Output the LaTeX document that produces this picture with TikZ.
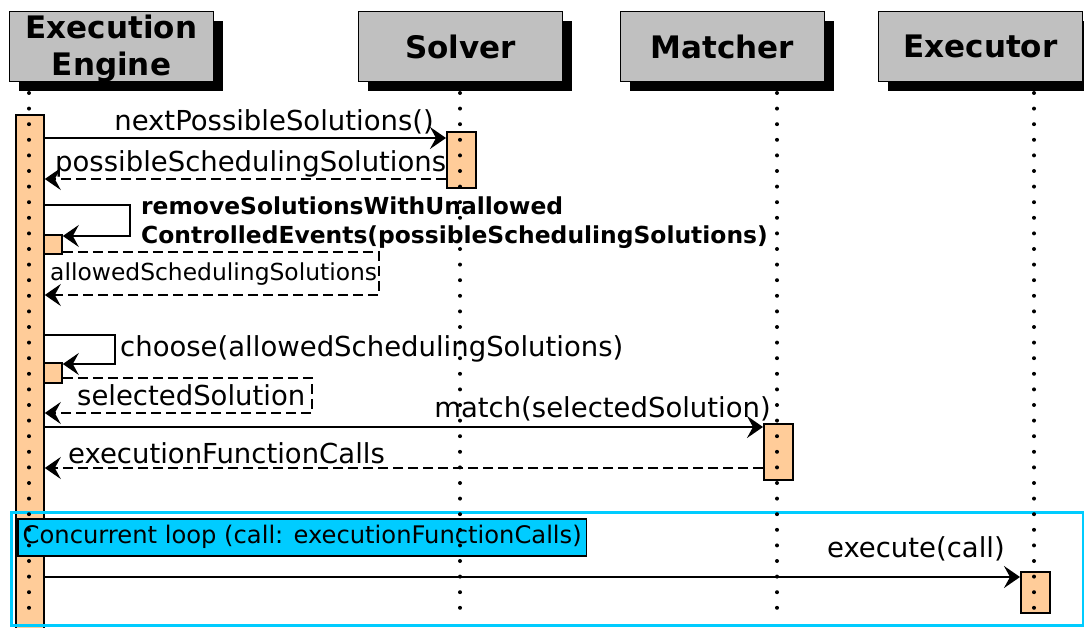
\documentclass[tikz,border=0pt]{standalone}
\usepackage{fontspec}
\setmainfont{DejaVu Sans}
\usetikzlibrary{arrows.meta,shadows}
\definecolor{actfill}{HTML}{FFCC99}
\definecolor{headgray}{HTML}{C0C0C0}
\definecolor{loopcyan}{HTML}{00CCFF}
\tikzset{
  header/.style={draw, line width=1.8pt, fill=headgray, minimum width=204pt,
    minimum height=70pt, inner sep=0pt, align=center,
    font=\fontsize{31}{37}\selectfont\bfseries,
    drop shadow={shadow xshift=9.5pt, shadow yshift=-9.5pt, fill=black, opacity=1}},
  act/.style={draw, line width=1.8pt, fill=actfill, anchor=north west, inner sep=0pt},
  lifeline/.style={line width=4pt, dash pattern=on 0pt off 15.6pt, line cap=round},
  msg/.style={line width=2pt, -{Stealth[length=16pt, width=22pt, inset=6pt]}},
  reply/.style={msg, dash pattern=on 10pt off 5pt},
  lbl/.style={inner sep=0pt, font=\fontsize{27.5}{32}\selectfont},
  smalllbl/.style={inner sep=0pt, font=\fontsize{23.4}{29}\selectfont},
}
\begin{document}
\begin{tikzpicture}[x=1pt, y=-1pt]
  \useasboundingbox (0,0) rectangle (1084,628);
  % objects
  \node[header, text depth=2pt] (engine) at (111.5,46.5) {Execution\\Engine};
  \node[header] (solver) at (460.5,46.5) {Solver};
  \node[header] (matcher) at (722.5,46.5) {Matcher};
  \node[header] (executor) at (980.5,46.5) {Executor};
  % activations
  \node[act, minimum width=28pt, minimum height=530pt] (eact) at (15,114) {};
  \node[act, minimum width=29pt, minimum height=56pt] (sact) at (446,131) {};
  \node[act, minimum width=18pt, minimum height=19pt] (self1) at (43,234) {};
  \node[act, minimum width=18pt, minimum height=20pt] (self2) at (43,362) {};
  \node[act, minimum width=29pt, minimum height=56pt] (mact) at (763,423) {};
  \node[act, minimum width=29pt, minimum height=41pt] (xact) at (1020,571) {};
  % loop frame
  \node[draw=loopcyan, line width=3pt, anchor=north west, inner sep=0pt,
    minimum width=1072pt, minimum height=113pt] (loopframe) at (10,510.5) {};
  \node[draw, line width=1.5pt, fill=loopcyan, anchor=north west, inner xsep=5pt,
    inner ysep=0pt, minimum height=37pt, font=\fontsize{24.2}{28}\selectfont]
    (looplbl) at (17,518) {Concurrent loop (call: executionFunctionCalls)};
  % message levels
  \coordinate (y1) at (0,138);
  \coordinate (y2) at (0,179);
  \coordinate (y3) at (0,205);
  \coordinate (y5) at (0,252);
  \coordinate (y7) at (0,335);
  \coordinate (y9) at (0,378);
  \coordinate (y11) at (0,427);
  \coordinate (y12) at (0,468);
  \coordinate (y13) at (0,577);
  \coordinate (turn1) at (130,236);
  \coordinate (turn2) at (379,295);
  \coordinate (turn3) at (115,364);
  \coordinate (turn4) at (312,413);
  % messages
  \draw[msg] (eact.east |- y1) -- (sact.west |- y1);
  \draw[reply] (sact.west |- y2) -- (eact.east |- y2);
  \draw[msg] (eact.east |- y3) -| (turn1) -- (self1.east |- turn1);
  \draw[reply] (self1.east |- y5) -| (turn2) -- (eact.east |- turn2);
  \draw[msg] (eact.east |- y7) -| (turn3) -- (self2.east |- turn3);
  \draw[reply] (self2.east |- y9) -| (turn4) -- (eact.east |- turn4);
  \draw[msg] (eact.east |- y11) -- (mact.west |- y11);
  \draw[reply] (mact.west |- y12) -- (eact.east |- y12);
  \draw[msg] (eact.east |- y13) -- (xact.west |- y13);
  % labels
  \node[lbl, anchor=base east] (nextlbl) at (434,131) {nextPossibleSolutions()};
  \node[lbl, anchor=base west] (possiblelbl) at (55,172) {possibleSchedulingSolutions};
  \node[smalllbl, anchor=north west, align=left, font=\fontsize{23.4}{29}\selectfont\bfseries]
    (removelbl) at (141,196.5) {removeSolutionsWithUnallowed\\ControlledEvents(possibleSchedulingSolutions)};
  \node[smalllbl, anchor=base west] (allowedlbl) at (50,280) {allowedSchedulingSolutions};
  \node[lbl, anchor=base west] (chooselbl) at (120,356) {choose(allowedSchedulingSolutions)};
  \node[lbl, anchor=base west] (selectedlbl) at (77,405) {selectedSolution};
  \node[lbl, anchor=base east] (matchlbl) at (771,417) {match(selectedSolution)};
  \node[lbl, anchor=base west] (callslbl) at (68,463) {executionFunctionCalls};
  \node[lbl, anchor=base east] (executelbl) at (1005,557) {execute(call)};
  % lifelines
  \foreach \x/\n in {29/eng, 460/sol, 777/mat, 1034/exe} {
    \coordinate (\n top) at (\x,93);
    \coordinate (\n bot) at (\x,615);
    \draw[lifeline] (\n top) -- (\n bot);
  }
\end{tikzpicture}
\end{document}
